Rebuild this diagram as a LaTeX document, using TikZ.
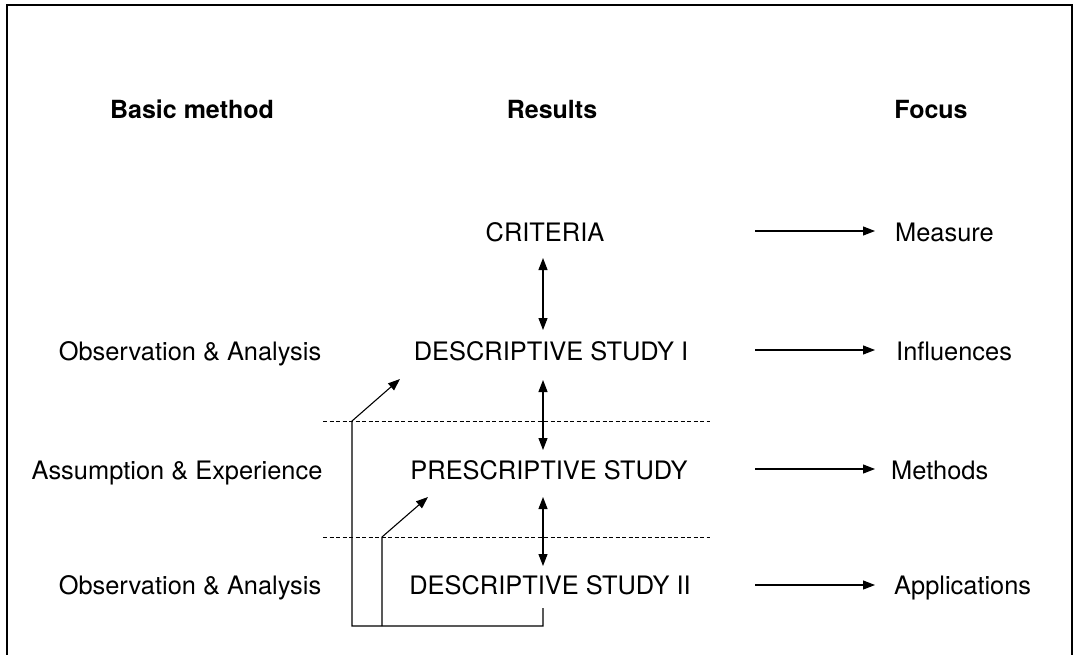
\documentclass[tikz,border=0pt]{standalone}
\usepackage{fontspec}
\setmainfont{TeX Gyre Heros}
\usetikzlibrary{arrows.meta,calc}
\begin{document}
\begin{tikzpicture}[x=1pt,y=-1pt,
  txt/.style={inner sep=0pt,anchor=base,font=\fontsize{25.4}{30}\selectfont},
  hdr/.style={txt,font=\fontsize{25}{30}\selectfont\bfseries},
  focuslbl/.style={txt,anchor=base west},
  ln/.style={line width=1.1pt},
  arr/.style={ln,-{Triangle[length=12pt,width=9pt]}},
  dbl/.style={ln,{Triangle[length=12pt,width=9pt]}-{Triangle[length=12pt,width=9pt]}},
  sep/.style={line width=1pt,dash pattern=on 4pt off 2.5pt}]
\useasboundingbox (0,0) rectangle (1075,654);
% frame (top, left, right)
\draw[line width=1.2pt] (7,660) -- (7,5) -- (1072,5) -- (1072,660);
% headers
\node[hdr] (hbm) at (192,118) {Basic method};
\node[hdr] (hres) at (552,118) {Results};
\node[hdr] (hfoc) at (931,118) {Focus};
% results column
\node[txt] (crit) at (545,241) {CRITERIA};
\node[txt] (ds1) at (551,360) {DESCRIPTIVE STUDY I};
\node[txt] (ps) at (549,479) {PRESCRIPTIVE STUDY};
\node[txt] (ds2) at (550,594) {DESCRIPTIVE STUDY II};
% basic method column
\node[txt] (bm1) at (190,360) {Observation \& Analysis};
\node[txt] (bm2) at (177,479) {Assumption \& Experience};
\node[txt] (bm3) at (190,594) {Observation \& Analysis};
% focus column
\node[focuslbl] (f1) at (895,241) {Measure};
\node[focuslbl] (f2) at (896,360) {Influences};
\node[focuslbl] (f3) at (891,479) {Methods};
\node[focuslbl] (f4) at (894,594) {Applications};
% right arrows
\coordinate (a1) at (755,231);
\coordinate (a2) at (755,350);
\coordinate (a3) at (755,469);
\coordinate (a4) at (755,585);
\draw[arr] (a1) -- ($(f1.base west)+(-20,-10)$);
\draw[arr] (a2) -- ($(f2.base west)+(-21,-10)$);
\draw[arr] (a3) -- ($(f3.base west)+(-16,-10)$);
\draw[arr] (a4) -- ($(f4.base west)+(-19,-9)$);
% vertical double arrows
\coordinate (vx) at (543,0);
\draw[dbl] ($(crit.base -| vx)+(0,17)$) -- ($(ds1.base -| vx)+(0,-30)$);
\draw[dbl] ($(ds1.base -| vx)+(0,20)$) -- ($(ps.base -| vx)+(0,-29)$);
\draw[dbl] ($(ps.base -| vx)+(0,18)$) -- ($(ds2.base -| vx)+(0,-28)$);
% dotted separators
\coordinate (s1l) at (323,421);
\coordinate (s1r) at (710,421);
\coordinate (s2l) at (323,537);
\coordinate (s2r) at (710,537);
\draw[sep] (s1l) -- (s1r);
\draw[sep] (s2l) -- (s2r);
% feedback connectors
\coordinate (fb0) at (543,608);
\coordinate (fbb) at (543,626);
\coordinate (k1) at (352,421);
\coordinate (k2) at (382,537);
\coordinate (t1) at (400,379);
\coordinate (t2) at (428,497);
\draw[arr] (fb0) -- (fbb) -- (fbb -| k1) -- (k1) -- (t1);
\draw[arr] (fbb -| k2) -- (k2) -- (t2);
\end{tikzpicture}
\end{document}
